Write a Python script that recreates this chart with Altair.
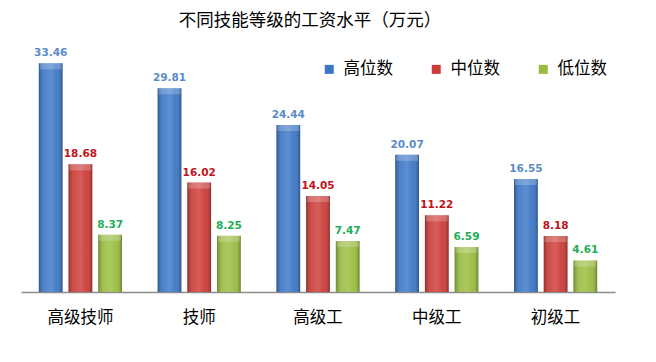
import altair as alt
import pandas as pd

categories = ["高级技师", "技师", "高级工", "中级工", "初级工"]
series = ["高位数", "中位数", "低位数"]
high = [33.46, 29.81, 24.44, 20.07, 16.55]
mid = [18.68, 16.02, 14.05, 11.22, 8.18]
low = [8.37, 8.25, 7.47, 6.59, 4.61]

bar_colors = ["#3B76C6", "#CC3B37", "#98BC3E"]
label_colors = ["#5B8BC8", "#C0141A", "#1EAE55"]

rows = []
for s, vals in zip(series, [high, mid, low]):
    for c, v in zip(categories, vals):
        rows.append({"cat": c, "series": s, "value": v, "label": f"{v:.2f}"})
df = pd.DataFrame(rows)

x_enc = alt.X("cat:N", sort=categories, title=None,
              scale=alt.Scale(paddingInner=0.25, paddingOuter=0.125),
              axis=alt.Axis(labelAngle=0, ticks=False, grid=False, domainColor="#8C8C8C",
                            domainWidth=1.5, labelFont="Noto Sans CJK SC", labelFontSize=16.5,
                            labelColor="#000000", labelPadding=17))
xoff_enc = alt.XOffset("series:N", sort=series,
                       scale=alt.Scale(domain=series, paddingInner=0.2, paddingOuter=0.1))
y_enc = alt.Y("value:Q", scale=alt.Scale(domain=[0, 36]), axis=None)

base = alt.Chart(df)

bars = base.mark_bar(stroke=None).encode(
    x=x_enc, xOffset=xoff_enc, y=y_enc,
    color=alt.Color("series:N", sort=series,
                    scale=alt.Scale(domain=series, range=bar_colors),
                    legend=alt.Legend(title=None, orient="none", legendX=300, legendY=15,
                                      direction="horizontal", symbolType="square",
                                      symbolSize=81, symbolStrokeWidth=0, symbolOpacity=1,
                                      labelFont="Noto Sans CJK SC", labelFontSize=16.5,
                                      labelColor="#000000", labelOffset=6, columnPadding=35,
                                      labelLimit=200, padding=0)),
)

shade = alt.Gradient(
    gradient="linear", x1=0, x2=1, y1=0, y2=0,
    stops=[
        alt.GradientStop(color="rgba(0,0,0,0.28)", offset=0),
        alt.GradientStop(color="rgba(255,255,255,0.10)", offset=0.25),
        alt.GradientStop(color="rgba(255,255,255,0.18)", offset=0.5),
        alt.GradientStop(color="rgba(255,255,255,0.05)", offset=0.75),
        alt.GradientStop(color="rgba(0,0,0,0.30)", offset=1),
    ],
)
gloss = base.mark_bar(fill=shade, stroke=None).encode(
    x=x_enc, xOffset=xoff_enc, y=y_enc,
)

cap = base.mark_tick(orient="horizontal", thickness=6, size=22, yOffset=3,
                     color="rgba(255,255,255,0.30)").encode(
    x=x_enc, xOffset=xoff_enc, y=y_enc,
)

labels = base.mark_text(baseline="alphabetic", dy=-7, font="DejaVu Sans",
                        fontWeight="bold", fontSize=10.5).encode(
    x=x_enc, xOffset=xoff_enc, y=y_enc, text="label:N",
    color=alt.Color("series:N", sort=series,
                    scale=alt.Scale(domain=series, range=label_colors), legend=None),
)

chart = alt.layer(bars, gloss, cap, labels).resolve_scale(color="independent").properties(
    width=594, height=246,
    autosize=alt.AutoSizeParams(type="none"),
    padding={"left": 13, "top": 38, "right": 33, "bottom": 62},
    title=alt.TitleParams("不同技能等级的工资水平（万元）", font="Noto Sans CJK SC", fontSize=17.5,
                          fontWeight="normal", color="#000000", anchor="middle", dx=-8, offset=17),
).configure(background="white", view=alt.ViewConfig(stroke=None))

chart.save("out.html", embed_options={"renderer": "svg", "actions": False})
